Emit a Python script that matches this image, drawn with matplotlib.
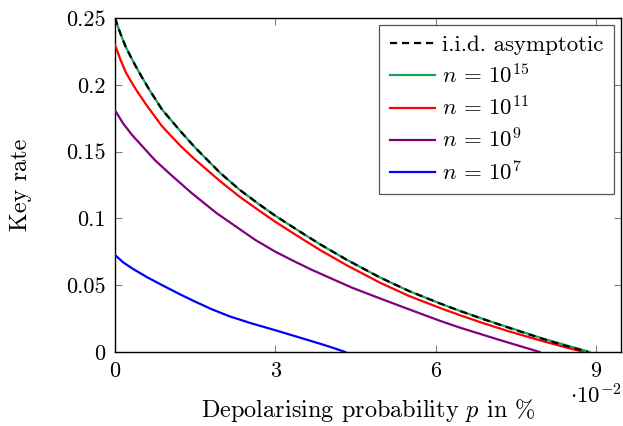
import matplotlib
matplotlib.use("Agg")
import matplotlib.pyplot as plt
from matplotlib.ticker import FixedLocator, FuncFormatter

plt.rcParams['font.family'] = ['cmr10', 'DejaVu Serif']
plt.rcParams['mathtext.fontset'] = 'cm'
plt.rcParams['axes.formatter.use_mathtext'] = True

# values (p as a fraction, rate)
p_iid = [0, 0.001, 0.002, 0.003, 0.004, 0.005, 0.0064, 0.0088, 0.0122, 0.015,
         0.0197, 0.0234, 0.027, 0.03, 0.0345, 0.0384, 0.0434, 0.0496, 0.055,
         0.0608, 0.0646, 0.069, 0.0733, 0.08, 0.0845, 0.0886]
r_iid = [0.25, 0.2385, 0.2285, 0.2205, 0.213, 0.206, 0.1965, 0.1815, 0.1655,
         0.153, 0.134, 0.1212, 0.1105, 0.102, 0.0904, 0.0806, 0.069, 0.0558,
         0.0457, 0.0364, 0.0307, 0.0245, 0.0187, 0.0099, 0.0045, 0.0]

p_15 = [0, 0.001, 0.002, 0.003, 0.004, 0.005, 0.0064, 0.0088, 0.0122, 0.015,
        0.0197, 0.0234, 0.027, 0.03, 0.0345, 0.0384, 0.0434, 0.0496, 0.055,
        0.0608, 0.0646, 0.069, 0.0733, 0.08, 0.0845, 0.0889]
r_15 = [0.25, 0.2385, 0.2285, 0.2205, 0.213, 0.206, 0.1965, 0.1815, 0.1655,
        0.153, 0.134, 0.1212, 0.1105, 0.102, 0.0904, 0.0806, 0.069, 0.0558,
        0.0457, 0.0364, 0.0307, 0.0246, 0.0189, 0.0102, 0.0050, 0.0]

p_11 = [0, 0.001, 0.002, 0.003, 0.004, 0.006, 0.0088, 0.0122, 0.015, 0.0197,
        0.0234, 0.027, 0.03, 0.0345, 0.0384, 0.0434, 0.0496, 0.055, 0.0608,
        0.0646, 0.069, 0.0733, 0.08, 0.0845, 0.0877]
r_11 = [0.230, 0.219, 0.2095, 0.2025, 0.196, 0.1842, 0.169, 0.1545, 0.144,
        0.1278, 0.116, 0.1058, 0.0975, 0.086, 0.0763, 0.0649, 0.0519, 0.042,
        0.033, 0.0275, 0.0215, 0.016, 0.0082, 0.0034, 0.0]

p_9 = [0, 0.0015, 0.0032, 0.005, 0.0075, 0.0105, 0.0144, 0.019, 0.0234, 0.0263,
       0.03, 0.0335, 0.0369, 0.0405, 0.0444, 0.05, 0.055, 0.0608, 0.0646,
       0.072, 0.0795]
r_9 = [0.181, 0.1712, 0.1624, 0.1545, 0.1435, 0.1325, 0.1188, 0.104, 0.0918,
       0.0838, 0.0751, 0.068, 0.0614, 0.055, 0.0481, 0.0395, 0.032, 0.0234,
       0.0182, 0.009, 0.0]

p_7 = [0, 0.0015, 0.0032, 0.006, 0.0088, 0.012, 0.015, 0.018, 0.0213, 0.0255,
       0.03, 0.0335, 0.0369, 0.04, 0.0431]
r_7 = [0.0726, 0.0672, 0.0626, 0.056, 0.0501, 0.0435, 0.0377, 0.0322, 0.0269,
       0.0215, 0.0163, 0.0121, 0.008, 0.0042, 0.0]

x_ticks = [0, 0.03, 0.06, 0.09]
y_ticks = [0, 0.05, 0.1, 0.15, 0.2, 0.25]
y_labels = ['0', '0.05', '0.1', '0.15', '0.2', '0.25']

fig = plt.figure(figsize=(6.23, 4.26), dpi=100)
ax = fig.add_axes([0.1846, 0.1737, 0.812, 0.784])

lw = 1.6
ax.plot(p_15, r_15, color='#14a55a', lw=lw, label=r'$n\,=\,10^{15}$', zorder=3)
ax.plot(p_11, r_11, color='#ff0000', lw=lw, label=r'$n\,=\,10^{11}$', zorder=3)
ax.plot(p_9, r_9, color='#800080', lw=lw, label=r'$n\,=\,10^{9}$', zorder=3)
ax.plot(p_7, r_7, color='#0000ff', lw=lw, label=r'$n\,=\,10^{7}$', zorder=3)
ax.plot(p_iid, r_iid, color='black', lw=lw, ls=(0, (3.2, 2.2)),
        label='i.i.d. asymptotic', zorder=4)

ax.set_xlim(0, 0.0947)
ax.set_ylim(0, 0.25)
ax.xaxis.set_major_locator(FixedLocator(x_ticks))
ax.xaxis.set_major_formatter(FuncFormatter(lambda v, pos: '%d' % round(v * 100)))
ax.yaxis.set_major_locator(FixedLocator(y_ticks))
ax.set_yticklabels(y_labels)

ax.tick_params(direction='in', length=5, width=0.8, color='#808080',
               top=True, right=True, labelsize=16)
ax.tick_params(axis='y', pad=7)
ax.tick_params(axis='x', pad=7)
for s in ax.spines.values():
    s.set_linewidth(1.0)

ax.set_ylabel('Key rate', fontsize=17.5)
ax.set_xlabel(r'Depolarising probability $p$ in %', fontsize=17.5)
ax.yaxis.set_label_coords(-0.164, 0.5)
ax.xaxis.set_label_coords(0.5, -0.135)
fig.text(0.998, 0.101, r'$\cdot10^{-2}$', fontsize=16.5, ha='right', va='top')

h, l = ax.get_legend_handles_labels()
order = [4, 0, 1, 2, 3]
leg = ax.legend([h[i] for i in order], [l[i] for i in order], loc='upper right',
                fontsize=16.5, fancybox=False, framealpha=1, edgecolor='#555555',
                handlelength=2.0, borderaxespad=0.3, labelspacing=0.35,
                handletextpad=0.3, borderpad=0.45)
leg.get_frame().set_linewidth(0.9)

fig.savefig('out.png', dpi=100)
